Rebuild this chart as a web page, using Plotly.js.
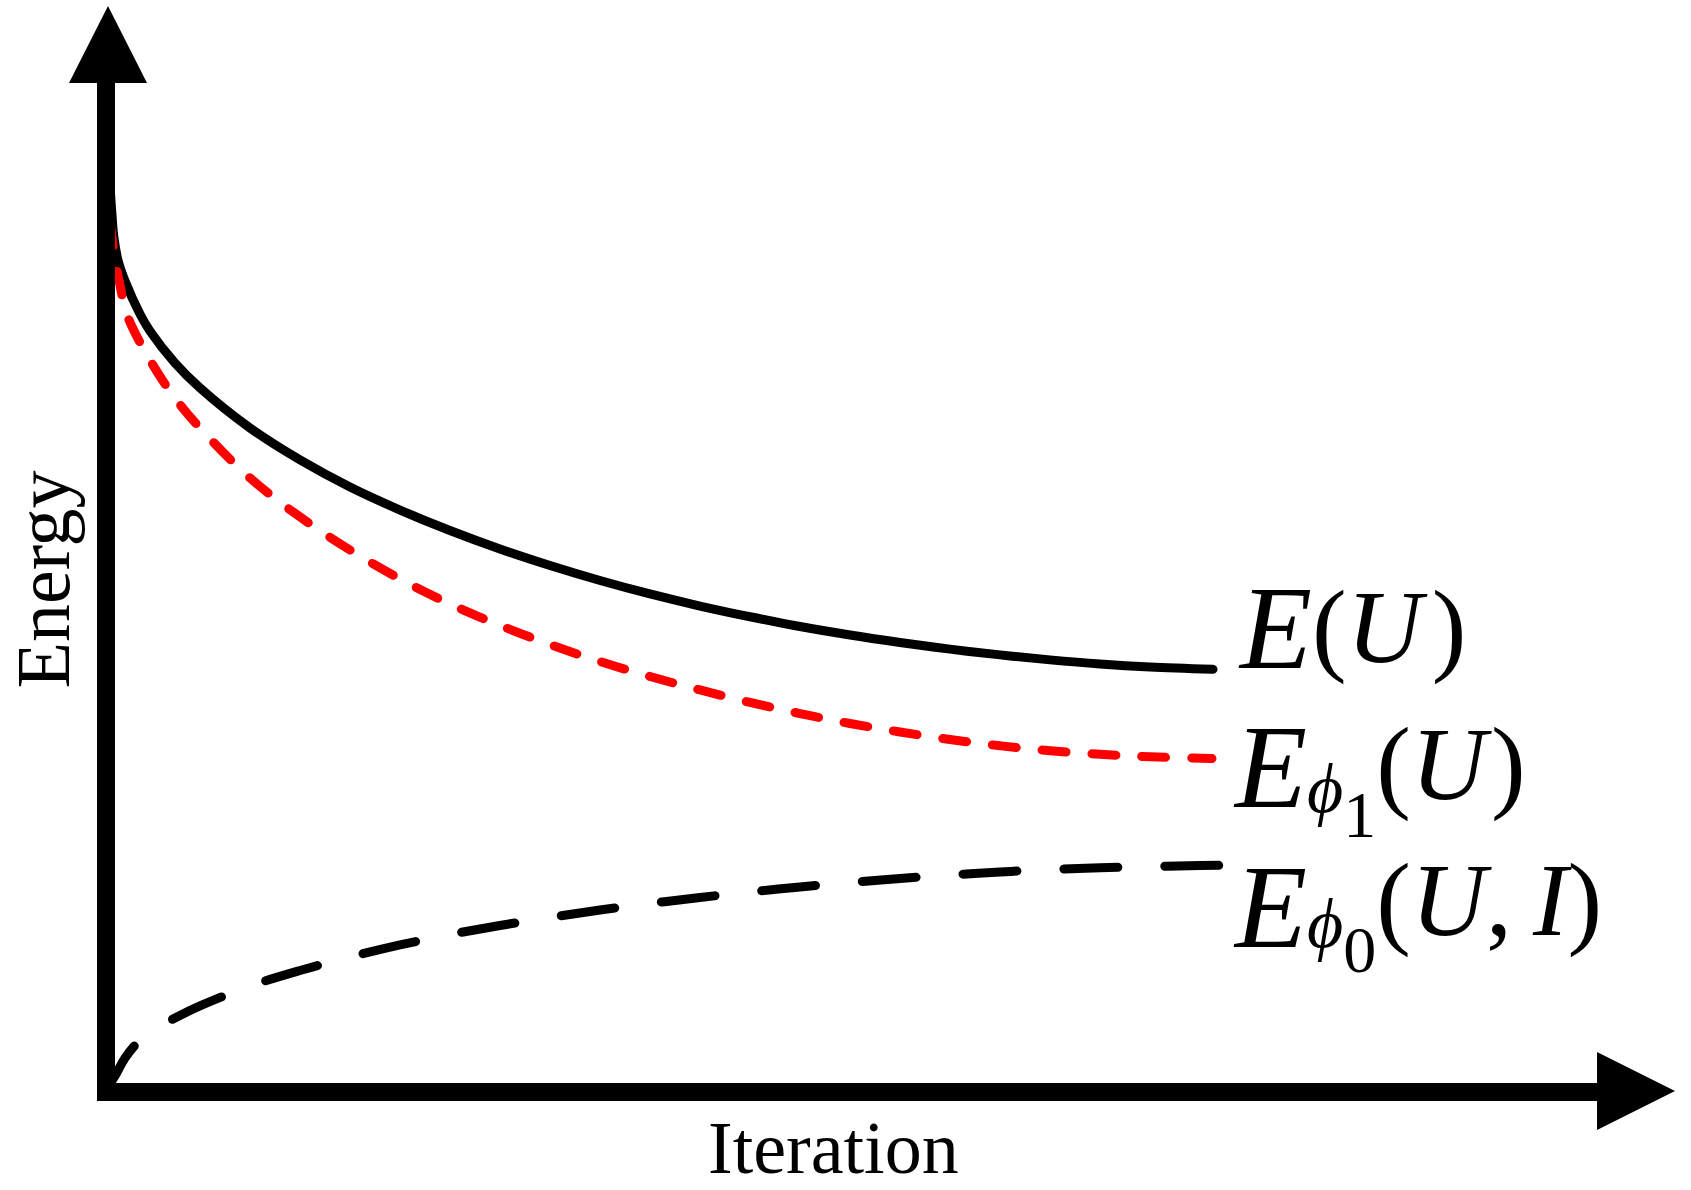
<!DOCTYPE html>
<html>
<head>
<meta charset="utf-8">
<script src="https://cdn.plot.ly/plotly-3.0.1.min.js"></script>
<style>
  html, body { margin: 0; padding: 0; background: #ffffff; }
  #chart { width: 1691px; height: 1190px; }
  .scatterlayer path.js-line { stroke-linecap: round !important; stroke-linejoin: round !important; }
</style>
</head>
<body>
<div id="chart"></div>
<script>
// ---- Data (iteration on x, energy on y; arbitrary units) ----
var iterE = [0.36, 0.54, 0.72, 1.08, 1.72, 3.07, 3.97, 6.23, 8.49, 13.01, 17.53, 22.04, 26.56, 31.07, 35.59, 40.11, 44.63, 49.14, 53.66, 58.18, 62.69, 67.21, 71.73, 76.24, 80.76, 85.28, 89.79, 94.31, 100.0];
var energyE = [83.52, 80.76, 78.64, 76.61, 74.68, 71.64, 70.07, 67.13, 64.83, 61.14, 58.20, 55.71, 53.59, 51.70, 50.00, 48.48, 47.10, 45.86, 44.75, 43.76, 42.86, 42.08, 41.39, 40.78, 40.25, 39.79, 39.41, 39.13, 38.92];

var iterPhi1 = [0.36, 0.63, 0.90, 1.26, 1.90, 3.97, 6.23, 8.49, 13.01, 17.53, 22.04, 26.56, 31.07, 35.59, 40.11, 44.63, 49.14, 53.66, 58.18, 62.69, 67.21, 71.73, 76.24, 80.76, 85.28, 89.79, 94.31, 99.91];
var energyPhi1 = [80.11, 77.99, 76.15, 74.31, 71.55, 67.40, 63.90, 61.14, 56.54, 52.95, 49.91, 47.24, 44.94, 42.96, 41.21, 39.64, 38.26, 37.02, 35.87, 34.85, 33.93, 33.15, 32.46, 31.88, 31.42, 31.10, 30.87, 30.71];

var iterPhi0 = [0, 0.36, 0.81, 1.72, 2.89, 3.97, 6.23, 8.49, 13.01, 17.53, 22.04, 26.56, 31.07, 35.59, 40.11, 44.63, 49.14, 53.66, 58.18, 62.69, 67.21, 71.73, 76.24, 80.76, 85.28, 89.79, 94.31, 98.83, 102.17];
var energyPhi0 = [0, 0.74, 1.47, 3.13, 4.60, 5.52, 6.81, 7.92, 9.76, 11.19, 12.43, 13.54, 14.50, 15.33, 16.07, 16.76, 17.36, 17.91, 18.42, 18.88, 19.29, 19.66, 19.98, 20.26, 20.49, 20.64, 20.76, 20.85, 20.88];

var xTitle = "Iteration";
var yTitle = "Energy";

// ---- Layout geometry (pixels) ----
var W = 1691, H = 1190;
var ML = 106, MR = 16, MT = 6, MB = 98;
var PW = W - ML - MR, PH = H - MT - MB;
function px(x) { return (x - ML) / PW; }
function py(y) { return (H - MB - y) / PH; }

var serif = "Liberation Serif, Times New Roman, serif";

var traces = [
  { x: iterE, y: energyE, mode: "lines", line: { color: "#000000", width: 9, shape: "spline", smoothing: 1 }, hoverinfo: "skip" },
  { x: iterPhi1, y: energyPhi1, mode: "lines", line: { color: "#ff0000", width: 9, dash: "24px,26px", shape: "spline", smoothing: 1 }, hoverinfo: "skip" },
  { x: iterPhi0, y: energyPhi0, mode: "lines", line: { color: "#000000", width: 9, dash: "54px,47px", shape: "spline", smoothing: 1 }, hoverinfo: "skip" }
];

function P(x, y) { return px(x) + "," + py(y); }

var shapes = [
  { type: "path", xref: "paper", yref: "paper", layer: "above",
    path: "M" + P(106, 80) + " L" + P(106, 1092) + " L" + P(1600, 1092),
    line: { color: "#000000", width: 18 } },
  { type: "path", xref: "paper", yref: "paper", layer: "above",
    path: "M" + P(108, 6) + " L" + P(147, 83) + " L" + P(69, 83) + " Z",
    fillcolor: "#000000", line: { width: 0 } },
  { type: "path", xref: "paper", yref: "paper", layer: "above",
    path: "M" + P(1675, 1091) + " L" + P(1597, 1130) + " L" + P(1597, 1052) + " Z",
    fillcolor: "#000000", line: { width: 0 } }
];

var BIG = 118;
function lab(text, left, baseline) {
  return { text: text, showarrow: false, xref: "paper", yref: "paper",
    x: px(left), y: py(baseline - 0.891 * BIG - 2), xanchor: "left", yanchor: "top",
    font: { family: serif, size: BIG, color: "#000000" } };
}
function sz(n, t) { return '<span style="font-size:' + n + 'px">' + t + '</span>'; }
var gap = sz(40, '\u00A0');
var gapSmall = sz(20, '\u00A0');

var annotations = [
  { text: xTitle, showarrow: false, xref: "paper", yref: "paper", x: px(833), y: py(1173 - 0.338 * 74),
    xanchor: "center", yanchor: "middle", font: { family: serif, size: 74, color: "#000000" } },
  { text: yTitle, showarrow: false, xref: "paper", yref: "paper", x: px(42.5), y: py(580),
    xanchor: "center", yanchor: "middle", textangle: -90, borderpad: 0, borderwidth: 0,
    font: { family: serif, size: 76, color: "#000000" } },
  lab("<i>E</i>" + sz(104, "(<i>U</i>" + gap + ")"), 1236, 668),
  lab("<i>E</i>" + sz(70, "<i>\u03D5</i>") + sz(66, "1") + sz(104, "(<i>U</i>" + gapSmall + ")"), 1231, 807),
  lab("<i>E</i>" + sz(70, "<i>\u03D5</i>") + sz(66, "0") + sz(104, "(<i>U</i>,\u2009<i>I</i>)"), 1231, 947)
];

var layout = {
  width: W, height: H,
  margin: { l: ML, r: MR, t: MT, b: MB, pad: 0 },
  paper_bgcolor: "#ffffff", plot_bgcolor: "#ffffff",
  showlegend: false,
  xaxis: { range: [0, PW / 11.07], visible: false, fixedrange: true },
  yaxis: { range: [0, PH / 10.86], visible: false, fixedrange: true },
  shapes: shapes,
  annotations: annotations
};

// baseline offsets (subscripts) for the math labels: [annotation index, font size, dy]
var nudges = [
  [2, 104, -6],
  [3, 70, 5], [3, 66, 25], [3, 104, -38],
  [4, 70, 0], [4, 66, 25], [4, 104, -37]
];

Plotly.newPlot("chart", traces, layout, { staticPlot: true, displayModeBar: false }).then(function (gd) {
  nudges.forEach(function (n) {
    var g = gd.querySelector('g.annotation[data-index="' + n[0] + '"]');
    if (!g) return;
    var spans = g.querySelectorAll('tspan');
    for (var i = 0; i < spans.length; i++) {
      if (spans[i].style.fontSize === n[1] + 'px') {
        spans[i].setAttribute('dy', n[2]);
        break;
      }
    }
  });
});
</script>
</body>
</html>
